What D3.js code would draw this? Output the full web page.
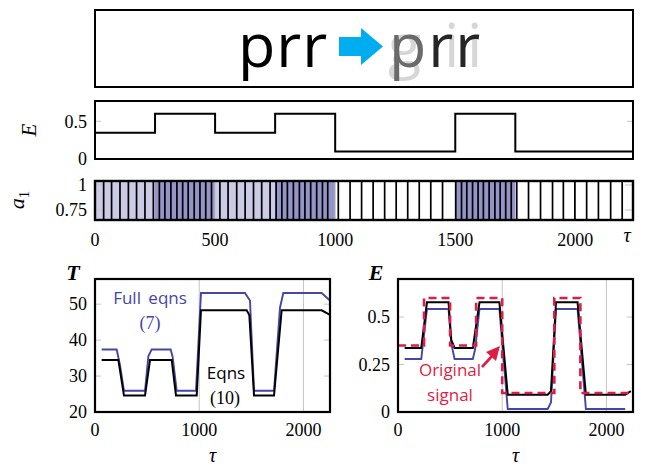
<!DOCTYPE html>
<html><head><meta charset="utf-8">
<script src="https://cdn.jsdelivr.net/npm/d3@7"></script>
<style>body{margin:0;background:#fff}svg{display:block}</style>
</head><body>
<svg id="c" width="647" height="468"></svg>
<script>
// ---------- data ----------
const tauTicksTop = [0, 500, 1000, 1500, 2000];
const tauTicksBottom = [0, 1000, 2000];
const eTicksTop = [0, 0.5];
const a1Ticks = [0.75, 1];
const tTicks = [20, 30, 40, 50];
const eTicksBottom = [0, 0.25, 0.5];

// original signal E(tau): change times and levels
const signalTimes = [0, 250, 500, 750, 1000, 1500, 1750, 2260];
const signalLevels = [0.35, 0.6, 0.35, 0.6, 0.1, 0.6, 0.1, 0.1];

// a1 panel background bands
const bandStarts = [0, 250, 500, 750, 1000, 1500, 1750];
const bandEnds   = [250, 500, 750, 1000, 1500, 1750, 2260];
const bandShade  = ["light", "dark", "light", "dark", "none", "dark", "none"];

// a1 spike times (vertical lines)
const spikeTimes = [36, 69, 104, 139, 173, 208, 243,
  268, 291, 316, 341, 365, 388, 413, 437, 461, 485,
  520, 554, 590, 625, 660, 694, 729,
  754, 778, 801, 826, 851, 874, 898, 923, 947, 969,
  1013, 1062, 1110, 1158, 1206, 1254, 1302, 1350, 1398, 1447,
  1502, 1526, 1548, 1572, 1595, 1617, 1641, 1665, 1687, 1710, 1733,
  1756, 1805, 1855, 1905, 1950, 1998, 2047, 2096, 2147, 2195];

// T curves
const fullTTau = [64, 208, 240, 278, 480, 512, 544, 726, 745, 784, 969, 1017, 1439, 1487, 1526, 1718, 1775, 1807, 2175, 2255];
const fullT    = [37.4, 37.4, 33, 25.9, 25.9, 35.5, 37.4, 37.4, 35.3, 25.9, 25.9, 53.1, 53.1, 51, 25.9, 25.9, 49, 53.1, 53.1, 51];
const eqnsTTau = [64, 224, 278, 480, 528, 736, 777, 976, 1017, 1455, 1481, 1526, 1718, 1791, 2175, 2255];
const eqnsT    = [34.5, 34.5, 24.6, 24.6, 34.5, 34.5, 24.6, 24.6, 48.3, 48.3, 47, 24.6, 24.6, 48.3, 48.3, 47];

// E curves
const fullETau = [64, 223, 278, 485, 511, 543, 718, 740, 782, 973, 1053, 1436, 1468, 1516, 1723, 1803, 2180];
const fullE    = [0.279, 0.279, 0.542, 0.542, 0.36, 0.279, 0.279, 0.33, 0.542, 0.542, 0.016, 0.016, 0.05, 0.542, 0.542, 0.016, 0.016];
const eqnsETau = [64, 223, 278, 485, 511, 543, 718, 782, 973, 1053, 1436, 1468, 1516, 1723, 1803, 2180, 2234];
const eqnsE    = [0.337, 0.337, 0.577, 0.577, 0.38, 0.337, 0.337, 0.577, 0.577, 0.091, 0.091, 0.11, 0.577, 0.577, 0.091, 0.091, 0.11];

// ---------- styles ----------
const BLUE = "#4646a6", RED = "#dc1e46", GRID = "#c4c4c4";
const SERIF = "'Liberation Serif', 'DejaVu Serif', serif";
const SANS = "'Open Sans', 'DejaVu Sans', sans-serif";
const shadeColor = {light: "#cbcbe6", dark: "#9494c9", none: "none"};

const svg = d3.select("#c");
const defs = svg.append("defs");
let clipId = 0;
function clip(x0, y0, x1, y1) {
  const id = "clip" + (clipId++);
  defs.append("clipPath").attr("id", id).append("rect")
    .attr("x", x0).attr("y", y0).attr("width", x1 - x0).attr("height", y1 - y0);
  return "url(#" + id + ")";
}
function zip(a, b) { return a.map((v, i) => [v, b[i]]); }

// ---------- top banner ----------
svg.append("rect").attr("x", 95).attr("y", 10).attr("width", 538).attr("height", 77)
  .attr("fill", "none").attr("stroke", "#000").attr("stroke-width", 2);
svg.append("text").attr("x", 238).attr("y", 67).attr("font-family", SANS).attr("font-size", 61)
  .attr("letter-spacing", 1).attr("fill", "#000").text("prr");
svg.append("polygon").attr("points", "339,37 361,37 361,28 383,46.5 361,65 361,56 339,56").attr("fill", "#00aeef");
const gii = svg.append("text").attr("y", 67).attr("font-family", SANS).attr("font-size", 61).attr("fill", "#d6d6d6");
gii.append("tspan").attr("x", 388).text("g");
gii.append("tspan").attr("x", 444).text("i");
gii.append("tspan").attr("x", 467).text("i");
const prr2 = svg.append("text").attr("x", 389).attr("y", 67).attr("font-family", SANS).attr("font-size", 61)
  .attr("letter-spacing", 2).attr("fill", "#262626");
prr2.append("tspan").attr("fill", "#6a6a6a").text("p");
prr2.append("tspan").text("rr");

// ---------- E panel (top) ----------
const xTop = d3.scaleLinear().domain([0, 2240]).range([95, 633]);
const yE = d3.scaleLinear().domain([0, 0.77]).range([159, 101]);
const gE = svg.append("g");
eTicksTop.forEach(v => {
  if (v > 0) {
    gE.append("line").attr("x1", 95).attr("x2", 101).attr("y1", yE(v)).attr("y2", yE(v)).attr("stroke", GRID);
    gE.append("line").attr("x1", 627).attr("x2", 633).attr("y1", yE(v)).attr("y2", yE(v)).attr("stroke", GRID);
  }
  gE.append("text").attr("x", 87).attr("y", yE(v)).attr("dy", "0.35em").attr("text-anchor", "end")
    .attr("font-family", SERIF).attr("font-size", 18).text(v === 0 ? "0" : d3.format(".1f")(v));
});
gE.append("path").datum(zip(signalTimes, signalLevels))
  .attr("d", d3.line().x(d => xTop(d[0])).y(d => yE(d[1])).curve(d3.curveStepAfter))
  .attr("fill", "none").attr("stroke", "#000").attr("stroke-width", 2)
  .attr("clip-path", clip(95, 101, 633, 159));
gE.append("rect").attr("x", 95).attr("y", 101).attr("width", 538).attr("height", 58)
  .attr("fill", "none").attr("stroke", "#000").attr("stroke-width", 2);
svg.append("text").attr("transform", "translate(36,130) rotate(-90)").attr("text-anchor", "middle")
  .attr("font-family", SERIF).attr("font-style", "italic").attr("font-size", 21).text("E");

// ---------- a1 panel ----------
const ya = d3.scaleLinear().domain([0.65, 1.04]).range([220, 181]);
const ga = svg.append("g").attr("clip-path", clip(95, 181, 633, 220));
bandStarts.forEach((s, i) => {
  if (bandShade[i] === "none") return;
  ga.append("rect").attr("x", xTop(s)).attr("y", 181).attr("width", xTop(bandEnds[i]) - xTop(s))
    .attr("height", 39).attr("fill", shadeColor[bandShade[i]]);
});
tauTicksTop.forEach(v => {
  if (v > 0) ga.append("line").attr("x1", xTop(v)).attr("x2", xTop(v)).attr("y1", 181).attr("y2", 220).attr("stroke", GRID);
});
a1Ticks.forEach(v => {
  ga.append("line").attr("x1", 95).attr("x2", 103).attr("y1", ya(v)).attr("y2", ya(v)).attr("stroke", GRID);
  ga.append("line").attr("x1", 625).attr("x2", 633).attr("y1", ya(v)).attr("y2", ya(v)).attr("stroke", GRID);
  svg.append("text").attr("x", 87).attr("y", ya(v)).attr("dy", "0.35em").attr("text-anchor", "end")
    .attr("font-family", SERIF).attr("font-size", 18).text(v === 1 ? "1" : "0.75");
});
ga.selectAll("line.spike").data(spikeTimes).enter().append("line")
  .attr("x1", d => xTop(d)).attr("x2", d => xTop(d)).attr("y1", 181).attr("y2", 220)
  .attr("stroke", "#000").attr("stroke-width", 1.7);
svg.append("rect").attr("x", 95).attr("y", 181).attr("width", 538).attr("height", 39)
  .attr("fill", "none").attr("stroke", "#000").attr("stroke-width", 2.4);
tauTicksTop.forEach(v => {
  svg.append("text").attr("x", xTop(v)).attr("y", 246).attr("text-anchor", "middle")
    .attr("font-family", SERIF).attr("font-size", 18).text(v);
});
svg.append("text").attr("x", 627).attr("y", 242).attr("text-anchor", "middle")
  .attr("font-family", SERIF).attr("font-style", "italic").attr("font-size", 20).text("τ");
const a1Label = svg.append("text").attr("transform", "translate(24,200) rotate(-90)").attr("text-anchor", "middle")
  .attr("font-family", SERIF).attr("font-style", "italic").attr("font-size", 22);
a1Label.append("tspan").text("a");
a1Label.append("tspan").attr("font-size", 15).attr("font-style", "normal").attr("dy", 5).text("1");

// ---------- bottom panels ----------
function bottomPanel(x0, x1, yDom, yTicks, yFmt, label) {
  const x = d3.scaleLinear().domain([0, 2255]).range([x0, x1]);
  const y = d3.scaleLinear().domain(yDom).range([412, 279]);
  const g = svg.append("g");
  tauTicksBottom.forEach(v => {
    if (v > 0) g.append("line").attr("x1", x(v)).attr("x2", x(v)).attr("y1", 279).attr("y2", 412).attr("stroke", GRID);
    g.append("text").attr("x", x(v)).attr("y", 436).attr("text-anchor", "middle")
      .attr("font-family", SERIF).attr("font-size", 18).text(v);
  });
  yTicks.forEach(v => {
    if (v > yDom[0]) {
      g.append("line").attr("x1", x0).attr("x2", x0 + 6).attr("y1", y(v)).attr("y2", y(v)).attr("stroke", GRID);
      g.append("line").attr("x1", x1 - 6).attr("x2", x1).attr("y1", y(v)).attr("y2", y(v)).attr("stroke", GRID);
    }
    g.append("text").attr("x", x0 - 8).attr("y", y(v)).attr("dy", "0.35em").attr("text-anchor", "end")
      .attr("font-family", SERIF).attr("font-size", 18).text(yFmt(v));
  });
  g.append("text").attr("x", (x0 + x1) / 2).attr("y", 462).attr("text-anchor", "middle")
    .attr("font-family", SERIF).attr("font-style", "italic").attr("font-size", 20).text("τ");
  g.append("text").attr("x", x0 - 22).attr("y", 280).attr("text-anchor", "middle")
    .attr("font-family", SERIF).attr("font-style", "italic").attr("font-weight", "bold").attr("font-size", 22).text(label);
  return {x, y, g, cp: clip(x0, 279, x1, 412)};
}

// T panel
const pT = bottomPanel(95, 330, [20, 57], tTicks, d => d, "T");
const lineT = d3.line().x(d => pT.x(d[0])).y(d => pT.y(d[1]));
pT.g.append("path").datum(zip(fullTTau, fullT)).attr("d", lineT).attr("fill", "none")
  .attr("stroke", BLUE).attr("stroke-width", 1.9).attr("clip-path", pT.cp);
pT.g.append("path").datum(zip(eqnsTTau, eqnsT)).attr("d", lineT).attr("fill", "none")
  .attr("stroke", "#000").attr("stroke-width", 2).attr("clip-path", pT.cp);
pT.g.append("rect").attr("x", 95).attr("y", 279).attr("width", 235).attr("height", 133)
  .attr("fill", "none").attr("stroke", "#000").attr("stroke-width", 2.2);
pT.g.append("text").attr("x", 150).attr("y", 304).attr("text-anchor", "middle").attr("font-family", SANS)
  .attr("font-size", 17).attr("word-spacing", 3).attr("fill", BLUE).text("Full eqns");
pT.g.append("text").attr("x", 150).attr("y", 329).attr("text-anchor", "middle").attr("font-family", SERIF)
  .attr("font-size", 18).attr("fill", BLUE).text("(7)");
pT.g.append("text").attr("x", 226).attr("y", 379).attr("text-anchor", "middle").attr("font-family", SANS)
  .attr("font-size", 17).attr("fill", "#000").text("Eqns");
pT.g.append("text").attr("x", 225).attr("y", 404).attr("text-anchor", "middle").attr("font-family", SERIF)
  .attr("font-size", 18).attr("fill", "#000").text("(10)");

// E panel (bottom)
const pE = bottomPanel(398, 633, [0, 0.7], eTicksBottom, d => d === 0 ? "0" : String(d), "E");
const lineE = d3.line().x(d => pE.x(d[0])).y(d => pE.y(d[1]));
pE.g.append("path").datum(zip(fullETau, fullE)).attr("d", lineE).attr("fill", "none")
  .attr("stroke", BLUE).attr("stroke-width", 1.9).attr("clip-path", pE.cp);
pE.g.append("path").datum(zip(eqnsETau, eqnsE)).attr("d", lineE).attr("fill", "none")
  .attr("stroke", "#000").attr("stroke-width", 2).attr("clip-path", pE.cp);
pE.g.append("path").datum(zip(signalTimes, signalLevels))
  .attr("d", d3.line().x(d => pE.x(d[0])).y(d => pE.y(d[1])).curve(d3.curveStepAfter))
  .attr("fill", "none").attr("stroke", RED).attr("stroke-width", 2.6).attr("stroke-dasharray", "8,5")
  .attr("clip-path", pE.cp);
pE.g.append("rect").attr("x", 398).attr("y", 279).attr("width", 235).attr("height", 133)
  .attr("fill", "none").attr("stroke", "#000").attr("stroke-width", 2.2);
pE.g.append("text").attr("x", 450).attr("y", 376).attr("text-anchor", "middle").attr("font-family", SANS)
  .attr("font-size", 17).attr("fill", RED).text("Original");
pE.g.append("text").attr("x", 450).attr("y", 401).attr("text-anchor", "middle").attr("font-family", SANS)
  .attr("font-size", 17).attr("fill", RED).text("signal");
// annotation arrow
pE.g.append("line").attr("x1", 482).attr("y1", 367).attr("x2", 493).attr("y2", 355)
  .attr("stroke", RED).attr("stroke-width", 2.6);
pE.g.append("polygon").attr("points", "500,346 486,352 496,361").attr("fill", RED);
</script>
</body></html>
